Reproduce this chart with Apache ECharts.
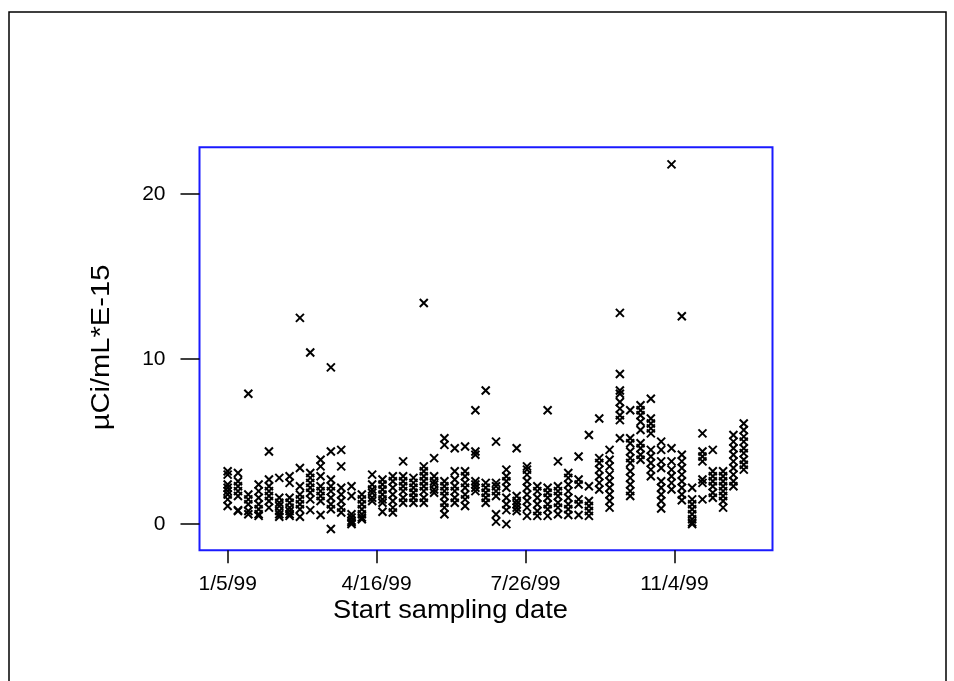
<!DOCTYPE html>
<html>
<head>
<meta charset="utf-8">
<script src="https://cdn.jsdelivr.net/npm/echarts@6/dist/echarts.min.js"></script>
<style>
  html, body { margin: 0; padding: 0; background: #ffffff; }
  #chart { width: 954px; height: 681px; }
</style>
</head>
<body>
<div id="chart"></div>
<script>
// Weekly sampling start dates (1999)
const sampleDates = [
  '1999-01-05','1999-01-12','1999-01-19','1999-01-26','1999-02-02','1999-02-09','1999-02-16','1999-02-23',
  '1999-03-02','1999-03-09','1999-03-16','1999-03-23','1999-03-30','1999-04-06','1999-04-13','1999-04-20',
  '1999-04-27','1999-05-04','1999-05-11','1999-05-18','1999-05-25','1999-06-01','1999-06-08','1999-06-15',
  '1999-06-22','1999-06-29','1999-07-06','1999-07-13','1999-07-20','1999-07-27','1999-08-03','1999-08-10',
  '1999-08-17','1999-08-24','1999-08-31','1999-09-07','1999-09-14','1999-09-21','1999-09-28','1999-10-05',
  '1999-10-12','1999-10-19','1999-10-26','1999-11-02','1999-11-09','1999-11-16','1999-11-23','1999-11-30',
  '1999-12-07','1999-12-14','1999-12-21'
];
// Concentrations (µCi/mL * E-15) for each sampling date, one list per date
const concentrations = [
  [3.2, 3.0, 2.4, 2.2, 2.0, 1.8, 1.5, 1.1],
  [3.1, 2.6, 2.3, 2.0, 1.7, 0.85, 0.8],
  [7.9, 1.8, 1.5, 1.2, 0.8, 0.6],
  [2.4, 2.0, 1.6, 1.2, 0.9, 0.6, 0.5],
  [4.4, 2.7, 2.3, 2.0, 1.7, 1.4, 1.0],
  [2.8, 1.6, 1.3, 1.1, 0.8, 0.6, 0.45],
  [2.9, 2.5, 1.6, 1.3, 1.0, 0.8, 0.6, 0.5],
  [12.5, 3.4, 2.3, 1.8, 1.5, 1.2, 0.9, 0.45],
  [10.4, 3.1, 2.8, 2.5, 2.2, 1.9, 1.5, 0.85],
  [3.9, 3.5, 2.9, 2.3, 2.0, 1.7, 1.4, 0.55],
  [9.5, 4.4, 2.7, 2.3, 2.0, 1.6, 1.2, 0.9, -0.3],
  [4.5, 3.5, 2.2, 1.8, 1.4, 1.0, 0.7],
  [2.3, 1.7, 0.6, 0.4, 0.2, 0.1, 0.0],
  [1.8, 1.5, 1.2, 0.9, 0.6, 0.4, 0.3],
  [3.0, 2.4, 2.1, 1.9, 1.6, 1.4],
  [2.7, 2.4, 2.1, 1.8, 1.5, 1.3, 0.75],
  [2.9, 2.6, 2.2, 1.8, 1.4, 1.0, 0.7],
  [3.8, 2.9, 2.6, 2.3, 2.0, 1.6, 1.3],
  [2.8, 2.5, 2.2, 1.9, 1.6, 1.3],
  [13.4, 3.5, 3.2, 2.9, 2.6, 2.3, 2.0, 1.6, 1.3],
  [4.0, 2.9, 2.6, 2.4, 2.1, 1.9],
  [5.2, 4.8, 2.6, 2.3, 2.0, 1.7, 1.3, 1.0, 0.6],
  [4.6, 3.2, 2.7, 2.3, 2.0, 1.6, 1.3],
  [4.7, 3.2, 2.9, 2.5, 2.2, 1.8, 1.5, 1.1],
  [6.9, 4.4, 4.2, 2.6, 2.4, 2.2, 2.0],
  [8.1, 2.5, 2.2, 1.9, 1.6, 1.3],
  [5.0, 2.5, 2.3, 2.0, 1.7, 0.6, 0.15],
  [3.3, 2.9, 2.6, 2.2, 1.6, 1.2, 0.85, 0.0],
  [4.6, 1.7, 1.4, 1.2, 1.0, 0.8],
  [3.5, 3.3, 3.0, 2.6, 2.2, 1.8, 1.4, 1.0, 0.5],
  [2.3, 2.0, 1.6, 1.2, 0.8, 0.5],
  [6.9, 2.2, 1.9, 1.6, 1.2, 0.9, 0.5],
  [3.8, 2.3, 2.0, 1.7, 1.3, 1.0, 0.6],
  [3.1, 2.8, 2.4, 2.0, 1.6, 1.2, 0.9, 0.55],
  [4.1, 2.7, 2.4, 1.5, 1.2, 0.55],
  [5.4, 2.3, 1.4, 1.1, 0.8, 0.5],
  [6.4, 4.0, 3.7, 3.3, 2.9, 2.5, 2.1],
  [4.5, 3.9, 3.5, 3.0, 2.6, 2.2, 1.8, 1.4, 1.0],
  [12.8, 9.1, 8.1, 7.9, 7.4, 7.0, 6.6, 6.3, 5.2],
  [6.9, 5.2, 4.9, 4.4, 4.0, 3.7, 3.2, 2.8, 2.4, 2.0, 1.7],
  [7.2, 6.9, 6.6, 6.2, 5.7, 4.9, 4.6, 4.2, 3.9],
  [7.6, 6.4, 6.1, 5.8, 5.5, 4.5, 4.1, 3.7, 3.3, 2.9],
  [5.0, 4.5, 3.8, 3.4, 2.6, 2.2, 1.8, 1.4, 0.95],
  [21.8, 4.6, 3.8, 3.3, 2.9, 2.5, 2.1],
  [12.6, 4.2, 3.8, 3.4, 3.0, 2.6, 2.2, 1.8, 1.45],
  [2.2, 1.5, 1.2, 0.9, 0.6, 0.3, 0.1, 0.0],
  [5.5, 4.4, 4.1, 3.8, 2.7, 2.5, 1.5],
  [4.5, 3.2, 2.9, 2.6, 2.3, 1.9, 1.6],
  [3.2, 2.9, 2.6, 2.3, 2.0, 1.7, 1.4, 1.0],
  [5.4, 5.0, 4.6, 4.2, 3.8, 3.4, 3.0, 2.6, 2.3],
  [6.1, 5.7, 5.3, 5.0, 4.6, 4.3, 3.9, 3.6, 3.3]
];
const xTickDates = ['1999-01-05', '1999-04-16', '1999-07-26', '1999-11-04'];
const xTickLabels = ['1/5/99', '4/16/99', '7/26/99', '11/4/99'];
const yTickValues = [0, 10, 20];
const yTickLabels = ['0', '10', '20'];
const xTitle = 'Start sampling date';
const yTitle = 'µCi/mL*E-15';

const DAY = 86400000;
const origin = Date.UTC(1999, 0, 5);
function dayOffset(s) {
  const p = s.split('-').map(Number);
  return (Date.UTC(p[0], p[1] - 1, p[2]) - origin) / DAY;
}
const points = [];
sampleDates.forEach((d, i) => {
  const x = dayOffset(d);
  concentrations[i].forEach(v => points.push([x, v]));
});
const xTickPos = xTickDates.map(dayOffset);

const FONT = '"Liberation Sans", Arial, sans-serif';
const chart = echarts.init(document.getElementById('chart'), null, { renderer: 'canvas' });
chart.setOption({
  backgroundColor: '#ffffff',
  animation: false,
  grid: {
    left: 199.5, top: 147.2, width: 573, height: 403,
    show: true, borderColor: '#1a1aff', borderWidth: 2, backgroundColor: 'transparent'
  },
  xAxis: {
    type: 'value',
    min: -19.1, max: 369.5,
    axisLine: { show: false, onZero: false },
    splitLine: { show: false },
    axisTick: { show: true, inside: false, length: 13, customValues: xTickPos,
      lineStyle: { color: '#000', width: 1.5 } },
    axisLabel: { show: true, customValues: xTickPos, margin: 24,
      fontFamily: FONT, fontSize: 21, color: '#000',
      formatter: v => { const i = xTickPos.indexOf(v); return i >= 0 ? xTickLabels[i] : ''; } }
  },
  yAxis: {
    type: 'value',
    min: -1.58, max: 22.84,
    axisLine: { show: false, onZero: false },
    splitLine: { show: false },
    axisTick: { show: true, inside: false, length: 19, customValues: yTickValues,
      lineStyle: { color: '#000', width: 1.5 } },
    axisLabel: { show: true, customValues: yTickValues, margin: 34,
      fontFamily: FONT, fontSize: 21, color: '#000',
      formatter: v => { const i = yTickValues.indexOf(v); return i >= 0 ? yTickLabels[i] : ''; } }
  },
  graphic: [
    {
      type: 'rect', silent: true,
      shape: { x: 9, y: 12, width: 937, height: 700 },
      style: { fill: 'none', stroke: '#000', lineWidth: 1.5 }
    },
    {
      type: 'text', silent: true,
      x: 450.5, y: 611, scaleX: 1.09,
      style: { text: xTitle, font: '25px "Liberation Sans", Arial, sans-serif', fill: '#000',
        align: 'center', verticalAlign: 'middle' }
    },
    {
      type: 'text', silent: true,
      x: 102, y: 347.5, rotation: Math.PI / 2, scaleX: 1.12,
      style: { text: yTitle, font: '26px "Liberation Sans", Arial, sans-serif', fill: '#000',
        align: 'center', verticalAlign: 'middle' }
    }
  ],
  series: [{
    type: 'scatter',
    data: points,
    symbol: 'path://M0,0L10,10M10,0L0,10',
    symbolSize: 8,
    itemStyle: { color: 'none', borderColor: '#000', borderWidth: 2, opacity: 1 },
    emphasis: { disabled: true }
  }]
});
</script>
</body>
</html>
